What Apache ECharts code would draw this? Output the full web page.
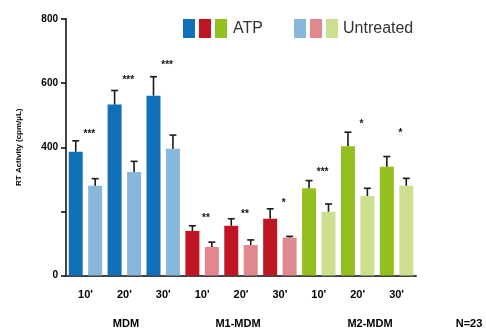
<!DOCTYPE html>
<html><head><meta charset="utf-8">
<script src="https://cdn.jsdelivr.net/npm/echarts@6/dist/echarts.min.js"></script>
<style>html,body{margin:0;padding:0;background:#fff}#c{width:486px;height:331px}</style>
</head><body><div id="c"></div>
<script>
// ---- data ----
const categories = ['MDM ATP 10','MDM Untr 10','MDM ATP 20','MDM Untr 20','MDM ATP 30','MDM Untr 30',
  'M1 ATP 10','M1 Untr 10','M1 ATP 20','M1 Untr 20','M1 ATP 30','M1 Untr 30',
  'M2 ATP 10','M2 Untr 10','M2 ATP 20','M2 Untr 20','M2 ATP 30','M2 Untr 30'];
const values   = [386, 280, 533, 323, 561, 395, 139, 89, 155, 95, 177, 118, 272, 199, 403, 248, 339, 280];
const errTops  = [420, 302, 577, 356, 620, 438, 155, 104, 177, 111, 208, 122, 296, 223, 447, 272, 371, 303];
const timeLabels = ["10'", "20'", "30'", "10'", "20'", "30'", "10'", "20'", "30'"];
const groupLabels = ['MDM', 'M1-MDM', 'M2-MDM'];
const starIndex = [0, 2, 4, 6, 8, 10, 12, 14, 16];
const starText  = ['***', '***', '***', '**', '**', '*', '***', '*', '*'];
const starValue = [448, 615, 662, 184, 197, 231, 329, 479, 449];
const yTicks = [0, 200, 400, 600, 800];
const yTickLabels = ['0', '', '400', '600', '800'];
const legendNames = ['ATP', 'Untreated'];

// ---- styles ----
const colors = ['#1170b8','#88b7dc','#1170b8','#88b7dc','#1170b8','#88b7dc',
  '#be1622','#e0878f','#be1622','#e0878f','#be1622','#e0878f',
  '#93c01f','#cbe08e','#93c01f','#cbe08e','#93c01f','#cbe08e'];
const F = '"Liberation Sans", Arial, sans-serif';

const chart = echarts.init(document.getElementById('c'));
const graphics = [];
// legend
const legA = [['#1170b8',183],['#be1622',199],['#93c01f',215]];
const legU = [['#88b7dc',294],['#e0878f',310],['#cbe08e',326]];
legA.concat(legU).forEach(([c,x]) => graphics.push({type:'rect', left:x, top:19, shape:{width:12, height:19}, style:{fill:c}}));
graphics.push({type:'text', left:233, top:21, style:{text:legendNames[0], font:'16px '+F, fill:'#333'}});
graphics.push({type:'text', left:343, top:21, style:{text:legendNames[1], font:'16px '+F, fill:'#333'}});
// group labels
const gx = [126, 238, 370];
groupLabels.forEach((t,i) => graphics.push({type:'text', x:gx[i], y:324, style:{text:t, font:'bold 11px '+F, fill:'#000', align:'center', verticalAlign:'middle'}}));
graphics.push({type:'text', x:469, y:324, style:{text:'N=23', font:'bold 11px '+F, fill:'#000', align:'center', verticalAlign:'middle'}});

chart.setOption({
  animation: false,
  grid: {left: 66, top: 19, right: 70, bottom: 55.5},
  graphic: graphics,
  xAxis: [{
    type: 'category', data: categories,
    axisLine: {lineStyle: {color: '#444', width: 2}},
    axisTick: {alignWithLabel: true, interval: 0, length: 6, lineStyle: {color: '#555', width: 1.5}},
    axisLabel: {show: false}
  }, {
    type: 'category', data: timeLabels, position: 'bottom',
    axisLine: {show: false}, axisTick: {show: false},
    axisLabel: {interval: 0, margin: 14, color: '#000', fontWeight: 'bold', fontSize: 11, fontFamily: F}
  }],
  yAxis: {
    type: 'value', min: 0, max: 800, interval: 200,
    name: 'RT Activity (cpm/\u00b5L)', nameLocation: 'middle', nameGap: 43,
    nameTextStyle: {fontWeight: 'bold', fontSize: 8, fontFamily: F, color: '#000'},
    splitLine: {show: false},
    axisLine: {show: true, lineStyle: {color: '#444', width: 2}},
    axisTick: {show: true, length: 5, lineStyle: {color: '#000', width: 1.5}},
    axisLabel: {margin: 8, color: '#000', fontWeight: 'bold', fontSize: 10, fontFamily: F,
      formatter: v => yTickLabels[yTicks.indexOf(v)] ?? ''}
  },
  series: [{
    type: 'bar', barWidth: 14,
    data: values.map((v,i) => ({value: v, itemStyle: {color: colors[i]}}))
  }, {
    type: 'custom',
    data: values.map((v,i) => [i, v, errTops[i]]),
    renderItem: (params, api) => {
      const p0 = api.coord([api.value(0), api.value(1)]);
      const p1 = api.coord([api.value(0), api.value(2)]);
      const st = {stroke: '#1a1a1a', lineWidth: 1.6};
      return {type: 'group', children: [
        {type: 'line', shape: {x1: p0[0], y1: p0[1], x2: p1[0], y2: p1[1]}, style: st},
        {type: 'line', shape: {x1: p1[0]-3.5, y1: p1[1], x2: p1[0]+3.5, y2: p1[1]}, style: st}
      ]};
    }, z: 3
  }, {
    type: 'custom',
    data: starIndex.map((idx,i) => [idx, starValue[i], starText[i]]),
    renderItem: (params, api) => {
      const p = api.coord([api.value(0), api.value(1)]);
      const bw = api.size([1, 0])[0];
      return {type: 'text', x: p[0] + 0.7*bw, y: p[1] + 2,
        style: {text: starText[params.dataIndex], font: 'bold 10px '+F, fill: '#111', align: 'center', verticalAlign: 'middle'}};
    }, z: 4
  }]
});
</script></body></html>
